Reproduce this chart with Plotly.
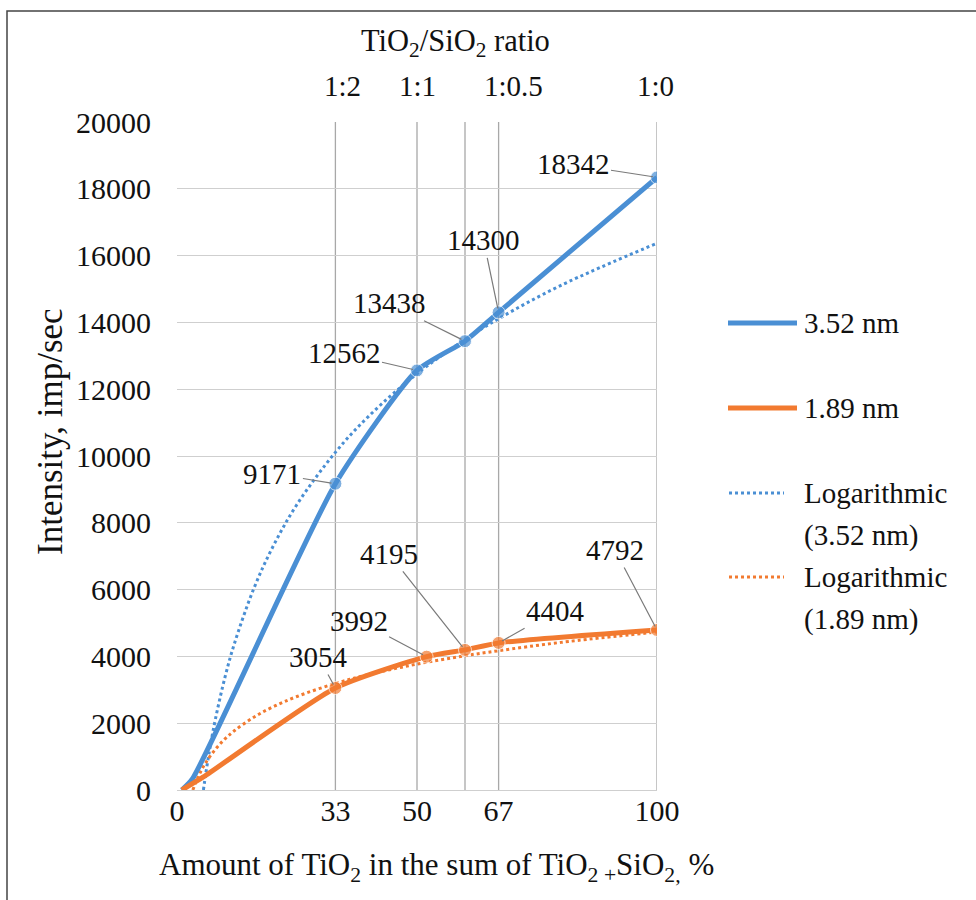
import plotly.graph_objects as go

# Amount of TiO2 in the sum of TiO2 + SiO2, %  and measured intensity, imp/sec
x_352 = [1, 3.2, 33, 50, 60, 67, 100]
y_352 = [0, 330, 9171, 12562, 13438, 14300, 18342]
x_189 = [1, 5.5, 33, 52, 60, 67, 100]
y_189 = [0, 390, 3054, 3992, 4195, 4404, 4792]

# logarithmic trend lines
trend_x_352 = [5.5, 6, 6.5, 7, 8, 10, 12, 16, 20, 25, 33, 40, 50, 60, 67, 80, 100]
trend_y_352 = [0, 500, 950, 1370, 2120, 3380, 4400, 6030, 7290, 8550, 10110, 11200, 12460,
               13490, 14110, 15110, 16370]
trend_x_189 = [3.3, 4, 5, 6, 8, 10, 12, 16, 20, 25, 33, 40, 50, 60, 67, 80, 100]
trend_y_189 = [0, 260, 570, 820, 1220, 1530, 1780, 2180, 2490, 2800, 3190, 3460, 3770,
               4020, 4170, 4420, 4730]

# compositions marked with vertical lines
ref_x = [33, 50, 60, 67, 100]

# TiO2/SiO2 ratio scale
ratio_x = [33, 50, 67, 100]
ratio_labels = ["1:2", "1:1", "1:0.5", "1:0"]

x_ticks = [0, 33, 50, 67, 100]
y_ticks = list(range(0, 20001, 2000))

legend_names = ["3.52 nm", "1.89 nm", "Logarithmic (3.52 nm)", "Logarithmic (1.89 nm)"]

BLUE = "#4a8fd4"
ORANGE = "#f27a30"
FONT = "Liberation Serif, Times New Roman, serif"
FS = 29
INK = "#111"
W, H = 976, 900
L, R, T, B = 177, 319, 122, 110

fig = go.Figure()

fig.add_trace(go.Scatter(x=trend_x_352, y=trend_y_352, mode="lines",
                         line=dict(color=BLUE, width=3, dash="dot", shape="spline"),
                         name=legend_names[2], showlegend=False, hoverinfo="skip"))
fig.add_trace(go.Scatter(x=trend_x_189, y=trend_y_189, mode="lines",
                         line=dict(color=ORANGE, width=3, dash="dot", shape="spline"),
                         name=legend_names[3], showlegend=False, hoverinfo="skip"))

def marker_sizes(n):
    # no marker on the two starting points
    return [0, 0] + [13] * (n - 2)

fig.add_trace(go.Scatter(x=x_352, y=y_352, mode="lines+markers",
                         line=dict(color=BLUE, width=5, shape="spline", smoothing=0.6),
                         marker=dict(color=BLUE, size=marker_sizes(len(x_352))),
                         name=legend_names[0], showlegend=False))
fig.add_trace(go.Scatter(x=x_189, y=y_189, mode="lines+markers",
                         line=dict(color=ORANGE, width=5, shape="spline", smoothing=0.6),
                         marker=dict(color=ORANGE, size=marker_sizes(len(x_189))),
                         name=legend_names[1], showlegend=False))

shapes = []
# vertical reference lines
for xv in ref_x:
    shapes.append(dict(type="line", xref="x", yref="paper", x0=xv, x1=xv, y0=0, y1=1,
                       line=dict(color="#a8a8a8", width=1.3), layer="below"))

def px(xp):
    return (xp - L) / (W - L - R)

def py(yp):
    return (H - B - yp) / (H - T - B)

# outer frame
shapes.append(dict(type="rect", xref="paper", yref="paper",
                   x0=px(7), x1=px(990), y0=py(11), y1=py(915),
                   line=dict(color="#444", width=1.5), fillcolor="rgba(0,0,0,0)"))

annotations = []

# data callouts: (dx, dy) offsets of the text from the point, in pixels
offs_352 = [(-63, -10), (-73, -17), (-76, -38), (-15, -72), (-84, -13)]
offs_189 = [(-17, -31), (-68, -36), (-76, -96), (57, -32), (-42, -80)]
for xs, ys, offs in ((x_352, y_352, offs_352), (x_189, y_189, offs_189)):
    for (xv, yv), (dx, dy) in zip(list(zip(xs, ys))[2:], offs):
        annotations.append(dict(x=xv, y=yv, xref="x", yref="y", text=str(yv),
                                showarrow=True, ax=dx, ay=dy, arrowhead=0,
                                arrowwidth=1.2, arrowcolor="#7a7a7a", standoff=4,
                                font=dict(family=FONT, size=FS, color=INK)))

# ratio labels along the top
ratio_shift = [7, 0, 15, -2]
for xv, lab, sh in zip(ratio_x, ratio_labels, ratio_shift):
    annotations.append(dict(x=xv, y=py(86), xref="x", yref="paper", text=lab,
                            showarrow=False, xshift=sh, yanchor="middle",
                            font=dict(family=FONT, size=FS, color=INK)))
annotations.append(dict(x=px(455), y=py(43), xref="paper", yref="paper",
                        text="TiO<sub>2</sub>/SiO<sub>2</sub> ratio", showarrow=False,
                        yanchor="middle", xanchor="center",
                        font=dict(family=FONT, size=30.5, color=INK)))

# axis titles
annotations.append(dict(x=px(436), y=py(867), xref="paper", yref="paper",
                        text="Amount of TiO<sub>2</sub> in the sum of TiO<sub>2 +</sub>SiO<sub>2,</sub> %",
                        showarrow=False, xanchor="center", yanchor="middle",
                        font=dict(family=FONT, size=31, color=INK)))
annotations.append(dict(x=px(50), y=py(432), xref="paper", yref="paper",
                        text="Intensity, imp/sec", textangle=-90,
                        showarrow=False, xanchor="center", yanchor="middle",
                        font=dict(family=FONT, size=35, color=INK)))

# legend
leg_rows = [
    (323, BLUE, 5, "solid", 728, 797, [legend_names[0]]),
    (408, ORANGE, 5, "solid", 728, 797, [legend_names[1]]),
    (493, BLUE, 3, "dot", 729, 784, ["Logarithmic", "(3.52 nm)"]),
    (577, ORANGE, 3, "dot", 729, 784, ["Logarithmic", "(1.89 nm)"]),
]
for yrow, col, wd, dash, xa, xb, lines in leg_rows:
    shapes.append(dict(type="line", xref="paper", yref="paper",
                       x0=px(xa), x1=px(xb), y0=py(yrow), y1=py(yrow),
                       line=dict(color=col, width=wd, dash=dash)))
    for k, txt in enumerate(lines):
        annotations.append(dict(x=px(802), y=py(yrow + 42 * k), xref="paper", yref="paper",
                                text=txt, showarrow=False, xanchor="left", yanchor="middle",
                                font=dict(family=FONT, size=FS, color=INK)))

fig.update_layout(
    width=W, height=H,
    margin=dict(l=L, r=R, t=T, b=B),
    paper_bgcolor="white", plot_bgcolor="white",
    font=dict(family=FONT, size=FS, color=INK),
    shapes=shapes, annotations=annotations,
    showlegend=False,
    xaxis=dict(range=[0, 100], tickvals=x_ticks, ticktext=[str(v) for v in x_ticks],
               showgrid=False, zeroline=False, showline=False, ticks="",
               tickfont=dict(family=FONT, size=30, color=INK)),
    yaxis=dict(range=[0, 20000], tickvals=y_ticks, tickformat="d",
               showgrid=True, gridcolor="#cfcfcf",
               gridwidth=1.3, zeroline=True, zerolinecolor="#cfcfcf", zerolinewidth=1.3,
               showline=False, ticks="", ticklabelstandoff=25,
               tickfont=dict(family=FONT, size=30, color=INK)),
)

fig.write_html("out.html")
